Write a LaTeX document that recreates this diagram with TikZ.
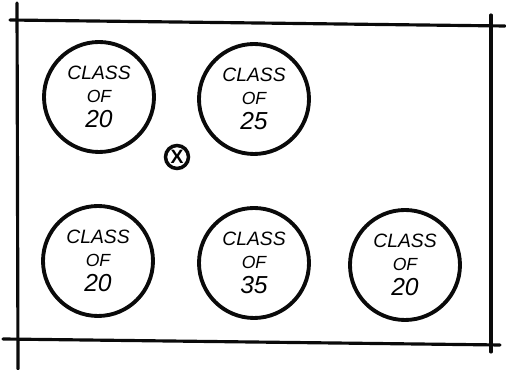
\documentclass[tikz,border=0pt]{standalone}
\usepackage{fontspec}
\setsansfont{Liberation Sans}
\usepackage{xcolor}
\usepackage{tikz}
\usetikzlibrary{positioning}
\definecolor{InkBlack}{RGB}{10,10,10}
\newcommand{\classof}[1]{CLASS\\[0pt]{\fontsize{10}{11}\selectfont OF}\\[1pt]{\fontsize{14}{14}\selectfont #1}}
\tikzset{
  wall/.style={draw=InkBlack, line width=1.8pt, line cap=round},
  classcircle/.style={circle, draw=InkBlack, line width=2.2pt, minimum size=2.2cm,
    inner sep=0pt, align=center, font=\sffamily\itshape\fontsize{11}{13}\selectfont},
  xmarker/.style={circle, draw=InkBlack, line width=2pt, minimum size=0.46cm,
    inner sep=0pt, font=\sffamily\bfseries\fontsize{11}{11}\selectfont},
}

\begin{document}
\begin{tikzpicture}
  \useasboundingbox (0,0) rectangle (10.12,-7.4);
  % walls of the room
  \draw[wall] (0.34,-0.06) -- (0.36,-7.38);
  \draw[wall] (0.20,-0.40) -- (10.10,-0.52);
  \draw[wall] (9.82,-0.30) -- (9.82,-7.04);
  \draw[wall] (0.06,-6.78) -- (10.00,-6.90);
  % groups
  \node[classcircle] (c1) at (1.98,-1.94) {\classof{20}};
  \node[classcircle] (c2) at (5.08,-1.98) {\classof{25}};
  \node[xmarker] (teacher) at (3.54,-3.14) {X};
  \node[classcircle] (c3) at (1.96,-5.22) {\classof{20}};
  \node[classcircle] (c4) at (5.08,-5.26) {\classof{35}};
  \node[classcircle] (c5) at (8.10,-5.30) {\classof{20}};
\end{tikzpicture}
\end{document}
